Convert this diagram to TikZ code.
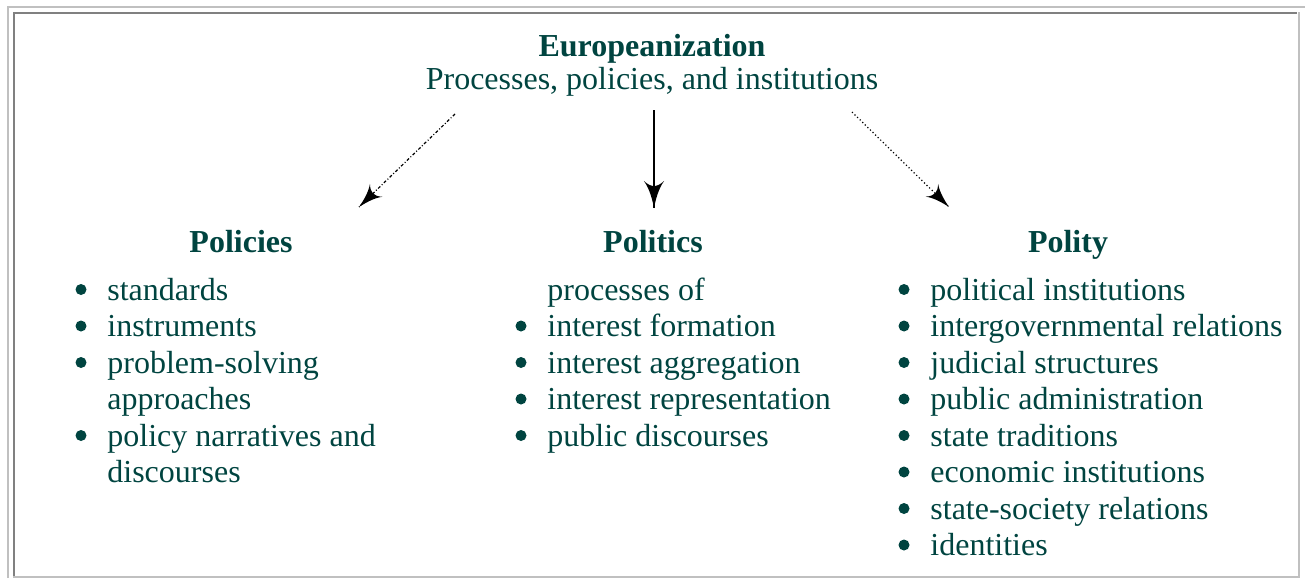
\documentclass[tikz,border=0pt]{standalone}
\usepackage{fontspec}
\setmainfont{Liberation Serif}
\usetikzlibrary{arrows}
\usetikzlibrary{decorations.markings}
\usetikzlibrary{positioning}
\definecolor{inktext}{RGB}{0,68,64}
\definecolor{lightframe}{RGB}{192,192,192}
\definecolor{darkframe}{RGB}{128,128,128}
\tikzset{arrowhead/.style = {decoration={markings,
                                  mark=at position 1 with {\arrow[scale=2.6, solid]{latex'}}},
                      postaction={decorate}}}
\tikzset{dot/.style = {fill=inktext, circle, inner sep = 0, minimum size = 5.5pt}}
\tikzset{entry/.style = {anchor=base west, inner sep=0, text=inktext,
                         font=\fontsize{16}{18.25}\selectfont}}
\tikzset{head/.style = {anchor=base, inner sep=0, text=inktext,
                        font=\fontsize{16}{18.25}\selectfont\bfseries}}

\begin{document}
\begin{tikzpicture}[x=0.5pt, y=-0.5pt]
          \useasboundingbox (0, 0) rectangle (1305, 578);
          % frame
          \draw [lightframe, line width=1pt] (7.5, 578) -- (7.5, 6.5) -- (1305, 6.5);
          \draw [darkframe, line width=1pt] (13.5, 576) -- (13.5, 12.5) -- (1297, 12.5);
          \draw [lightframe, line width=1pt] (13, 576.5) -- (1298.5, 576.5) -- (1298.5, 12);
          % title
          \node [head] (euro) at (652, 56) {Europeanization};
          \node [head, font=\fontsize{16}{18.25}\selectfont] (sub) at (652, 89) {Processes, policies, and institutions};
          \coordinate (l-from) at (455, 114);
          \coordinate (l-to) at (359, 207);
          \coordinate (m-from) at (654, 110);
          \coordinate (m-to) at (654, 208);
          \coordinate (r-from) at (852, 112);
          \coordinate (r-to) at (949, 207);
          \draw [arrowhead, line width=0.6pt, dash pattern=on 1.5pt off 1pt on 0.5pt off 1pt] (l-from) -- (l-to);
          \draw [arrowhead, line width=0.8pt] (m-from) -- (m-to);
          \draw [arrowhead, line width=0.6pt, dash pattern=on 0.6pt off 1.2pt] (r-from) -- (r-to);
          % headings
          \node [head] (policies) at (241, 252) {Policies};
          \node [head] (politics) at (653, 252) {Politics};
          \node [head] (polity) at (1068, 252) {Polity};
          % policies
          \node [entry] (standards) at (107, 300) {standards};
          \node [entry] (instruments) at (107, 336.5) {instruments};
          \node [entry] (problem) at (107, 373) {problem-solving};
          \node [entry] (approaches) at (107, 409.5) {approaches};
          \node [entry] (narratives) at (107, 446) {policy narratives and};
          \node [entry] (discourses) at (107, 482.5) {discourses};
          \node at (81, 289.5) [dot] {};
          \node at (81, 326) [dot] {};
          \node at (81, 362.5) [dot] {};
          \node at (81, 435.5) [dot] {};
          % politics
          \node [entry] (processes) at (547, 300) {processes of};
          \node [entry] (formation) at (547, 336.5) {interest formation};
          \node [entry] (aggregation) at (547, 373) {interest aggregation};
          \node [entry] (representation) at (547, 409.5) {interest representation};
          \node [entry] (public) at (547, 446) {public discourses};
          \node at (521, 326) [dot] {};
          \node at (521, 362.5) [dot] {};
          \node at (521, 399) [dot] {};
          \node at (521, 435.5) [dot] {};
          % polity
          \node [entry] (institutions) at (930, 300) {political institutions};
          \node [entry] (intergov) at (930, 336.5) {intergovernmental relations};
          \node [entry] (judicial) at (930, 373) {judicial structures};
          \node [entry] (admin) at (930, 409.5) {public administration};
          \node [entry] (traditions) at (930, 446) {state traditions};
          \node [entry] (economic) at (930, 482.5) {economic institutions};
          \node [entry] (society) at (930, 519) {state-society relations};
          \node [entry] (identities) at (930, 555.5) {identities};
          \node at (904, 289.5) [dot] {};
          \node at (904, 326) [dot] {};
          \node at (904, 362.5) [dot] {};
          \node at (904, 399) [dot] {};
          \node at (904, 435.5) [dot] {};
          \node at (904, 472) [dot] {};
          \node at (904, 508.5) [dot] {};
          \node at (904, 545) [dot] {};
        \end{tikzpicture}
\end{document}
